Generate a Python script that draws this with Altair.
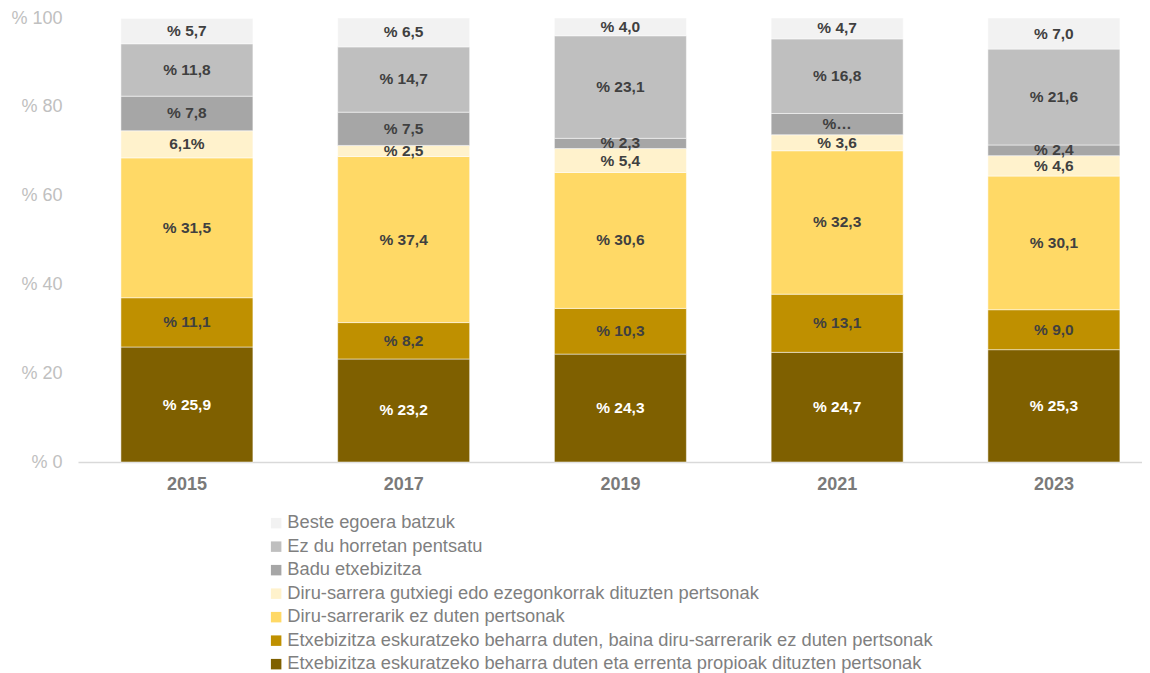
import altair as alt
import pandas as pd

years = ["2015", "2017", "2019", "2021", "2023"]

# bottom-to-top stacking order
categories = [
    "Etxebizitza eskuratzeko beharra duten eta errenta propioak dituzten pertsonak",
    "Etxebizitza eskuratzeko beharra duten, baina diru-sarrerarik ez duten pertsonak",
    "Diru-sarrerarik ez duten pertsonak",
    "Diru-sarrera gutxiegi edo ezegonkorrak dituzten pertsonak",
    "Badu etxebizitza",
    "Ez du horretan pentsatu",
    "Beste egoera batzuk",
]
colors = ["#7f6000", "#bf9000", "#ffd966", "#fff2cc", "#a6a6a6", "#bfbfbf", "#f2f2f2"]

values = [
    [25.9, 23.2, 24.3, 24.7, 25.3],
    [11.1, 8.2, 10.3, 13.1, 9.0],
    [31.5, 37.4, 30.6, 32.3, 30.1],
    [6.1, 2.5, 5.4, 3.6, 4.6],
    [7.8, 7.5, 2.3, 4.8, 2.4],
    [11.8, 14.7, 23.1, 16.8, 21.6],
    [5.7, 6.5, 4.0, 4.7, 7.0],
]
labels = [
    ["% 25,9", "% 23,2", "% 24,3", "% 24,7", "% 25,3"],
    ["% 11,1", "% 8,2", "% 10,3", "% 13,1", "% 9,0"],
    ["% 31,5", "% 37,4", "% 30,6", "% 32,3", "% 30,1"],
    ["6,1%", "% 2,5", "% 5,4", "% 3,6", "% 4,6"],
    ["% 7,8", "% 7,5", "% 2,3", "%…", "% 2,4"],
    ["% 11,8", "% 14,7", "% 23,1", "% 16,8", "% 21,6"],
    ["% 5,7", "% 6,5", "% 4,0", "% 4,7", "% 7,0"],
]

rows = []
for ci, cat in enumerate(categories):
    for yi, yr in enumerate(years):
        rows.append({
            "year": yr,
            "cat": cat,
            "order": ci,
            "value": values[ci][yi],
            "label": labels[ci][yi],
            "tcolor": "white" if ci == 0 else "#404040",
        })
df = pd.DataFrame(rows)

legend_domain = categories[::-1]
legend_range = colors[::-1]

FONT = "Liberation Sans"

base = alt.Chart(df).transform_stack(
    stack="value", groupby=["year"], as_=["v0", "v1"],
    sort=[alt.SortField("order", order="ascending")]
).transform_calculate(mid="(datum.v0 + datum.v1) / 2")

x_enc = alt.X(
    "year:N", title=None,
    scale=alt.Scale(paddingInner=0.391, paddingOuter=0.15, align=0.66),
    axis=alt.Axis(labelAngle=0, labelFont=FONT, labelFontSize=18, labelFontWeight="bold",
                  labelColor="#7a7a7a", ticks=False, labelPadding=13,
                  domainColor="#d9d9d9", domainWidth=1.5, grid=False),
)

bars = base.mark_bar(stroke="white", strokeWidth=0.5).encode(
    x=x_enc,
    y=alt.Y("v0:Q", title=None,
            scale=alt.Scale(domain=[0, 100], nice=False),
            axis=alt.Axis(values=[0, 20, 40, 60, 80, 100], labelExpr="'% ' + datum.value",
                          labelFont=FONT, labelFontSize=18, labelColor="#c0c0c0",
                          ticks=False, domain=False, grid=False, labelPadding=16)),
    y2="v1:Q",
    color=alt.Color("cat:N", scale=alt.Scale(domain=legend_domain, range=legend_range),
                    legend=alt.Legend(title=None, orient="none", legendX=189, legendY=496,
                                      symbolType="square", symbolSize=110, symbolStrokeWidth=0,
                                      labelFont=FONT, labelFontSize=18.3, labelColor="#7f7f7f",
                                      labelLimit=900, rowPadding=4.5, labelOffset=2)),
    order=alt.Order("order:Q"),
)

texts = base.mark_text(font=FONT, fontSize=15.5, fontWeight="bold").encode(
    x=alt.X("year:N"),
    y=alt.Y("mid:Q"),
    text="label:N",
    color=alt.Color("tcolor:N", scale=None),
)

chart = (bars + texts).properties(
    width=1064, height=444,
    padding={"left": 70, "top": 10, "right": 0, "bottom": 216},
    autosize=alt.AutoSizeParams(type="none"),
).configure_view(stroke=None)

chart.save("out.html", embed_options={"renderer": "svg", "actions": False})
